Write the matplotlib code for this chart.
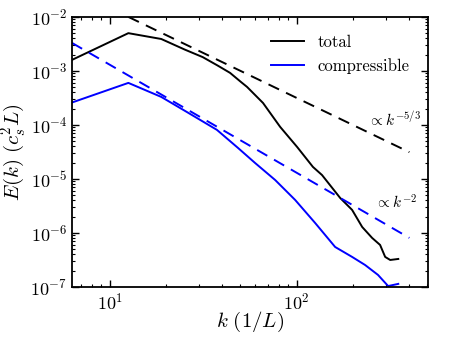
import matplotlib
matplotlib.use("Agg")
import matplotlib.pyplot as plt

plt.rcParams['mathtext.fontset'] = 'cm'
plt.rcParams['font.family'] = ['cmr10', 'DejaVu Serif']
plt.rcParams['axes.unicode_minus'] = False
plt.rcParams['axes.formatter.use_mathtext'] = True

# total spectrum
k_total = [6.28, 12.57, 18.85, 25.13, 31.42, 37.7, 43.98, 50.27, 54.2, 66.0,
           81.5, 100.5, 122, 136.5, 170.6, 197.7, 223.8, 253, 279, 297, 316, 349]
E_total = [1.6e-3, 5.0e-3, 3.9e-3, 2.49e-3, 1.8e-3, 1.26e-3, 9.2e-4, 6.25e-4,
           5.06e-4, 2.55e-4, 9.2e-5, 3.9e-5, 1.67e-5, 1.18e-5, 4.45e-6, 2.67e-6,
           1.29e-6, 8.08e-7, 6.0e-7, 3.6e-7, 3.16e-7, 3.3e-7]

# compressible spectrum
k_comp = [6.28, 12.57, 18.85, 25.8, 37.4, 48.5, 59.8, 76.6, 98, 125.4,
          160.4, 197.7, 232, 272, 308, 349]
E_comp = [2.6e-4, 6.0e-4, 3.3e-4, 1.74e-4, 8.1e-5, 3.75e-5, 1.98e-5, 9.57e-6,
          4.09e-6, 1.53e-6, 5.5e-7, 3.6e-7, 2.55e-7, 1.67e-7, 1.04e-7, 1.14e-7]

# reference power laws
k_53 = [12.57, 400]
E_53 = [1.0e-2, 3.13e-5]
k_2 = [6.28, 400]
E_2 = [3.3e-3, 8.1e-7]

fig = plt.figure(figsize=(4.5, 3.38), dpi=100)
ax = fig.add_axes([0.16, 0.151, 0.791, 0.799])

ax.loglog(k_total, E_total, color='black', lw=1.4, label='total')
ax.loglog(k_comp, E_comp, color='#0000ff', lw=1.4, label='compressible')
ax.loglog(k_53, E_53, color='black', lw=1.4, ls=(0, (6, 4)))
ax.loglog(k_2, E_2, color='#0000ff', lw=1.4, ls=(0, (6, 4)))

ax.text(241, 1.24e-4, r'$\propto k^{-5/3}$', fontsize=11, va='center', ha='left')
ax.text(263, 3.6e-6, r'$\propto k^{-2}$', fontsize=11, va='center', ha='left')

ax.set_xlim(6.28, 503)
ax.set_ylim(1e-7, 1e-2)

ax.set_xlabel(r'$k\ (1/L)$', fontsize=15)
ax.set_ylabel(r'$E(k)\ (c_s^2 L)$', fontsize=15)
ax.xaxis.set_label_coords(0.5, -0.085)
ax.yaxis.set_label_coords(-0.124, 0.5)

ax.tick_params(which='both', direction='in', top=True, right=True, labelsize=13)
ax.tick_params(which='major', length=5, width=1)
ax.tick_params(which='minor', length=2.5, width=0.8)
for s in ax.spines.values():
    s.set_linewidth(1.3)

leg = ax.legend(loc='upper right', frameon=False, fontsize=12, handlelength=2.0,
                bbox_to_anchor=(0.99, 0.99))

fig.savefig('out.png', dpi=100)
